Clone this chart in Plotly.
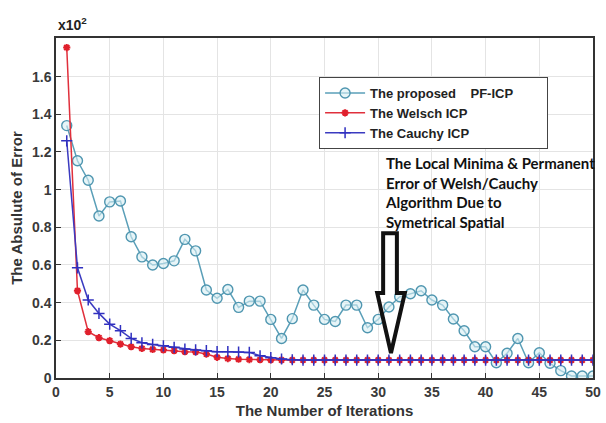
import plotly.graph_objects as go

iterations = list(range(1, 51))

proposed_pf_icp = [1.34, 1.153, 1.05, 0.86, 0.935, 0.94, 0.75, 0.643, 0.60, 0.608,
                   0.622, 0.736, 0.675, 0.467, 0.423, 0.47, 0.375, 0.408, 0.408, 0.311,
                   0.21, 0.315, 0.467, 0.387, 0.311, 0.30, 0.387, 0.387, 0.267, 0.311,
                   0.377, 0.431, 0.447, 0.463, 0.414, 0.387, 0.313, 0.251, 0.166, 0.166,
                   0.081, 0.131, 0.21, 0.081, 0.134, 0.078, 0.039, 0.011, 0.011, 0.011]

welsch_icp = [1.754, 0.463, 0.246, 0.214, 0.198, 0.18, 0.166, 0.157, 0.152, 0.149,
              0.145, 0.14, 0.138, 0.127, 0.11, 0.103, 0.10, 0.098, 0.097, 0.096,
              0.095, 0.095, 0.095, 0.095, 0.095, 0.095, 0.095, 0.095, 0.095, 0.095,
              0.095, 0.095, 0.095, 0.095, 0.095, 0.095, 0.095, 0.095, 0.095, 0.095,
              0.095, 0.095, 0.095, 0.095, 0.095, 0.095, 0.095, 0.095, 0.095, 0.095]

cauchy_icp = [1.259, 0.585, 0.414, 0.343, 0.286, 0.251, 0.21, 0.187, 0.178, 0.171,
              0.163, 0.154, 0.149, 0.145, 0.14, 0.14, 0.138, 0.136, 0.118, 0.108,
              0.101, 0.097, 0.095, 0.095, 0.095, 0.095, 0.095, 0.095, 0.095, 0.095,
              0.095, 0.095, 0.095, 0.095, 0.095, 0.095, 0.095, 0.095, 0.095, 0.095,
              0.095, 0.095, 0.095, 0.095, 0.095, 0.095, 0.095, 0.095, 0.095, 0.095]

NB = "\u00a0"
series_names = [f"<b>The proposed{NB*4}PF-ICP</b>{NB*8}", "<b>The Welsch ICP</b>", "<b>The Cauchy ICP</b>"]

x_tick_vals = [0, 5, 10, 15, 20, 25, 30, 35, 40, 45, 50]
y_tick_vals = [0, 0.2, 0.4, 0.6, 0.8, 1.0, 1.2, 1.4, 1.6]
y_tick_text = ["0", "0.2", "0.4", "0.6", "0.8", "1", "1.2", "1.4", "1.6"]

note_lines = ["The Local Minima & Permanent", "Error of Welsh/Cauchy",
              "Algorithm Due to", "Symetrical Spatial"]

FONT = "Liberation Sans, Arial, sans-serif"
TICK_COLOR = "#3a3a3a"

fig = go.Figure()

fig.add_trace(go.Scatter(
    x=iterations, y=proposed_pf_icp, name=series_names[0], mode="lines+markers",
    line=dict(color="#5a9fb8", width=1.5),
    marker=dict(symbol="circle", size=10, color="rgba(215,238,244,0.6)",
                line=dict(color="#4f96b0", width=1.4)),
))
fig.add_trace(go.Scatter(
    x=iterations, y=welsch_icp, name=series_names[1], mode="lines+markers",
    line=dict(color="#e0303c", width=1.5),
    marker=dict(symbol="asterisk", size=6, color="#e0202c",
                line=dict(color="#e0202c", width=2)),
))
fig.add_trace(go.Scatter(
    x=iterations, y=cauchy_icp, name=series_names[2], mode="lines+markers",
    line=dict(color="#3b3bc0", width=1.5),
    marker=dict(symbol="cross-thin", size=8, color="#3030c0",
                line=dict(color="#3030c0", width=1.5)),
))

# hollow block arrow (data coordinates)
ax = [30.46, 31.74, 31.74, 32.48, 31.19, 29.91, 30.46]
ay = [0.769, 0.769, 0.451, 0.451, 0.133, 0.451, 0.451]
path = "M " + " L ".join(f"{a},{b}" for a, b in zip(ax, ay)) + " Z"
fig.add_shape(type="path", path=path, xref="x", yref="y",
              line=dict(color="#111111", width=4), fillcolor="rgba(0,0,0,0)",
              layer="above")

# multiplier label
fig.add_annotation(text="<b>x10<sup>2</sup></b>", xref="paper", yref="paper",
                   x=0.0, y=1.04, xanchor="left", yanchor="middle", showarrow=False,
                   font=dict(family=FONT, size=14, color="#222222"))

# note text
fig.add_annotation(text="<br>".join(f"<b>{t}</b>" for t in note_lines),
                   xref="paper", yref="paper", x=(388 - 56) / 545, y=(378 - 152) / 340,
                   xanchor="left", yanchor="top", align="left", showarrow=False,
                   font=dict(family="Lato, Open Sans, sans-serif", size=15, color="#111111"))

fig.update_layout(
    width=606, height=423,
    margin=dict(l=56, r=5, t=38, b=45),
    paper_bgcolor="white", plot_bgcolor="white",
    font=dict(family=FONT, color=TICK_COLOR),
    showlegend=True,
    legend=dict(x=(323 - 56) / 545, y=(378 - 77) / 340, xanchor="left", yanchor="top",
                bgcolor="white", bordercolor="#444444", borderwidth=1,
                font=dict(family=FONT, size=13, color="#222222"),
                tracegroupgap=0, itemwidth=40),
    xaxis=dict(range=[0, 50], tickvals=x_tick_vals, showgrid=True, gridcolor="#e4e4e4",
               gridwidth=1, zeroline=False, showline=True, linecolor="#333333", linewidth=1.5,
               mirror=True, ticks="inside", ticklen=5, tickcolor="#333333",
               ticklabeloverflow="allow",
               tickfont=dict(family=FONT, size=14, color=TICK_COLOR, weight="bold"),
               title=dict(text="<b>The Number of Iterations</b>", standoff=7,
                          font=dict(family=FONT, size=15, color="#333333"))),
    yaxis=dict(range=[0, 1.805], tickvals=y_tick_vals, ticktext=y_tick_text,
               showgrid=True, gridcolor="#e4e4e4", gridwidth=1, zeroline=False,
               showline=True, linecolor="#333333", linewidth=1.5, mirror=True,
               ticks="inside", ticklen=5, tickcolor="#333333",
               tickfont=dict(family=FONT, size=14, color=TICK_COLOR, weight="bold"),
               title=dict(text="<b>The Absulute of Error</b>", standoff=6,
                          font=dict(family=FONT, size=15, color="#333333"))),
)

fig.write_html("out.html")
